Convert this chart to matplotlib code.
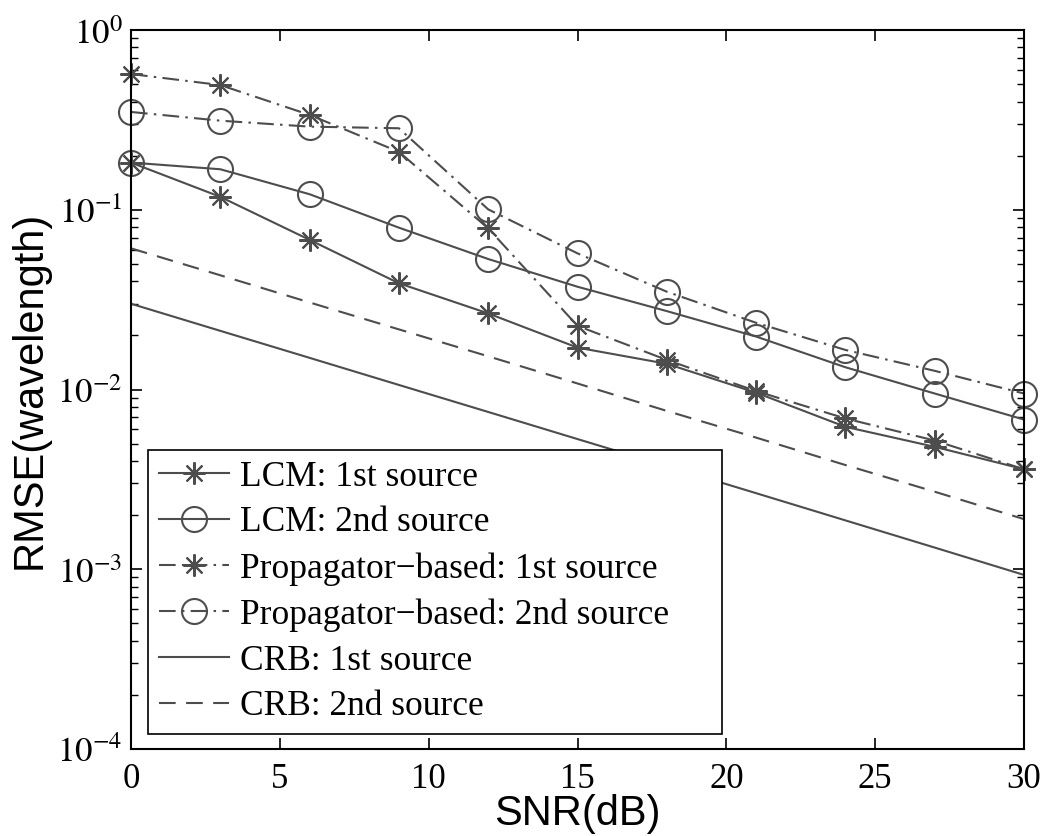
import math
import matplotlib
matplotlib.use('Agg')
import matplotlib.pyplot as plt
from matplotlib.ticker import LogLocator, FixedLocator, FuncFormatter, NullFormatter

plt.rcParams['mathtext.fontset'] = 'stix'

# SNR (dB) grid
snr = [0, 3, 6, 9, 12, 15, 18, 21, 24, 27, 30]

# RMSE values
lcm_1st = [0.183, 0.118, 0.068, 0.039, 0.0265, 0.0171, 0.0139, 0.0096, 0.0062, 0.0048, 0.0036]
lcm_2nd = [0.183, 0.168, 0.122, 0.0795, 0.0532, 0.0373, 0.0273, 0.0197, 0.0133, 0.0095, 0.0068]
prop_1st = [0.569, 0.494, 0.337, 0.210, 0.0788, 0.0226, 0.0146, 0.0098, 0.0069, 0.0052, 0.0036]
prop_2nd = [0.35, 0.313, 0.290, 0.284, 0.1005, 0.0572, 0.035, 0.0235, 0.0166, 0.0127, 0.0095]
crb_1st = [0.030, 0.0212, 0.0150, 0.0106, 0.0075, 0.0053, 0.00375, 0.00265, 0.00187, 0.00132, 0.00093]
crb_2nd = [0.061, 0.0432, 0.0305, 0.0216, 0.0153, 0.0108, 0.0076, 0.0054, 0.0038, 0.0027, 0.0019]

labels = ['LCM: 1st source', 'LCM: 2nd source',
          'Propagator\u2212based: 1st source', 'Propagator\u2212based: 2nd source',
          'CRB: 1st source', 'CRB: 2nd source']

col = '#4d4d4d'
serif = ['Liberation Serif', 'DejaVu Serif']
sans = ['Liberation Sans', 'DejaVu Sans']
star = (8, 2, 0)
dashdot = (0, (8, 3, 1.2, 3))

fig = plt.figure(figsize=(10.43, 8.36), dpi=100)
ax = fig.add_axes([131 / 1043, 1 - 749 / 836, 893 / 1043, 719 / 836])

lw = 1.5
ax.plot(snr, lcm_1st, color=col, lw=lw, marker=star, ms=16, mew=1.5, label=labels[0], clip_on=False)
ax.plot(snr, lcm_2nd, color=col, lw=lw, marker='o', ms=18, mfc='none', mew=1.5, label=labels[1], clip_on=False)
ax.plot(snr, prop_1st, color=col, lw=lw, ls=dashdot, marker=star, ms=16, mew=1.5, label=labels[2], clip_on=False)
ax.plot(snr, prop_2nd, color=col, lw=lw, ls=dashdot, marker='o', ms=18, mfc='none', mew=1.5, label=labels[3], clip_on=False)
ax.plot(snr, crb_1st, color=col, lw=lw, label=labels[4])
ax.plot(snr, crb_2nd, color=col, lw=lw, ls=(0, (8, 5)), label=labels[5])

ax.set_yscale('log')
ax.set_xlim(0, 30)
ax.set_ylim(1e-4, 1e0)

ax.xaxis.set_major_locator(FixedLocator([0, 5, 10, 15, 20, 25, 30]))
ax.yaxis.set_major_locator(LogLocator(base=10, numticks=10))
ax.yaxis.set_minor_locator(LogLocator(base=10, subs=range(2, 10), numticks=20))
ax.yaxis.set_minor_formatter(NullFormatter())
ax.yaxis.set_major_formatter(FuncFormatter(lambda v, p: r'$10^{%d}$' % round(math.log10(v))))

ax.tick_params(which='both', direction='in', top=True, right=True, color='black')
ax.tick_params(which='major', length=8, width=1.2)
ax.tick_params(which='minor', length=5, width=1.0)
ax.tick_params(axis='x', pad=10, labelsize=25)
ax.tick_params(axis='y', pad=6, labelsize=25)
for t in ax.get_xticklabels():
    t.set_family(serif)
for s in ax.spines.values():
    s.set_linewidth(1.5)

ax.set_xlabel('SNR(dB)', fontsize=30, family=sans)
ax.set_ylabel('RMSE(wavelength)', fontsize=30, family=sans)
ax.xaxis.set_label_coords(0.5, -0.063)
ax.yaxis.set_label_coords(-0.091, 0.5)

leg = ax.legend(loc='lower left', bbox_to_anchor=(0.019, 0.0209, 0.643, 0.4), mode='expand',
                borderaxespad=0, fancybox=False, framealpha=1, edgecolor='black',
                prop={'family': serif, 'size': 25.5}, handlelength=2.0, handletextpad=0.3,
                labelspacing=0.36, borderpad=0.3)
leg.get_frame().set_linewidth(1.2)

fig.savefig('out.png', dpi=100)
